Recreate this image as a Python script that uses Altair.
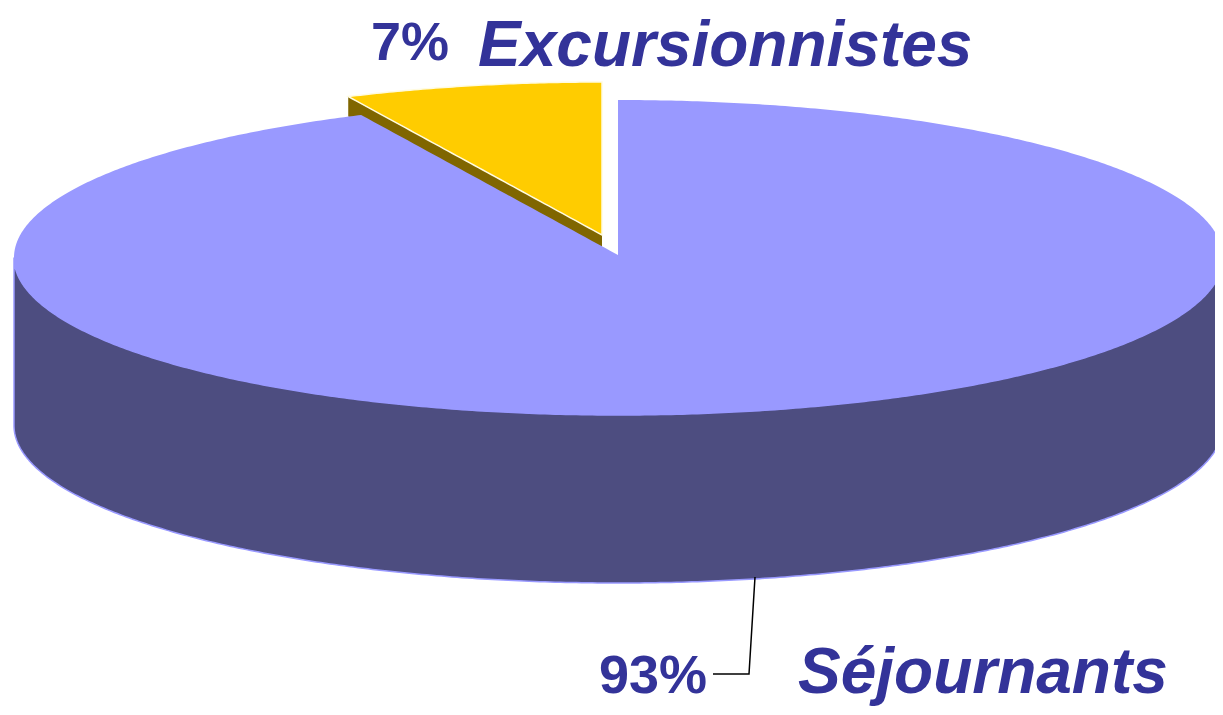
import numpy as np
import pandas as pd
import altair as alt

# Values
shares = [93, 7]
pct_labels = ["93%", "7%"]
names = ["Séjournants", "Excursionnistes"]

# Colours
TOP = "#9999FF"
SIDE = "#4D4D80"
YELLOW = "#FFCC00"
BROWN = "#806600"
TEXT = "#333399"

# Pie geometry (page pixels), everything else follows from the shares
cx, cy, a, b = 618.5, 257.5, 604.5, 157.5
depth = 168
apex = (618, 255)
wedge_cx, wedge_cy, wedge_a, wedge_b = 602, 235, 596, 153
wedge_depth = 20

angle = 2 * np.pi * shares[1] / sum(shares)
WIDTH, HEIGHT = 1207, 699
x_scale = alt.Scale(domain=[8, 8 + WIDTH], range=[0, WIDTH], nice=False, zero=False)
y_scale = alt.Scale(domain=[8 + HEIGHT, 8], range=[HEIGHT, 0], nice=False, zero=False)


def pos():
    return dict(
        x=alt.X("x:Q", scale=x_scale, axis=None),
        y=alt.Y("y:Q", scale=y_scale, axis=None),
    )


def area_layer(x, y, y2, **mark):
    df = pd.DataFrame({"x": x, "y": y, "y2": y2})
    return alt.Chart(df).mark_area(**mark).encode(y2="y2:Q", **pos())


s = np.linspace(0, np.pi, 361)
ex = cx - a * np.cos(s)
e_up = cy - b * np.sin(s)
e_lo = cy + b * np.sin(s)

# Side wall of the large slice
side = area_layer(ex, e_lo, e_lo + depth, color=SIDE, stroke=TOP, strokeWidth=1.5)

# Small slice: flat wedge whose arc spans the share
t = np.linspace(angle, 0, 60)
wx = wedge_cx - wedge_a * np.sin(t)
wy = wedge_cy - wedge_b * np.cos(t)
frac = (wx - wx[0]) / (wedge_cx - wx[0])
wl = wy[0] + (wedge_cy - wy[0]) * frac
wedge_wall = area_layer(wx, wl, wl + wedge_depth, color=BROWN)
wedge_top = area_layer(wx, wy, wl, color=YELLOW, stroke="#FFFBE0", strokeWidth=1.5)

# Top of the large slice: ellipse with the notch cut out
corner_x = cx - a * np.sin(angle)
corner_y = cy - b * np.cos(angle)
left = ex < corner_x
right = ex > apex[0] + 0.02
notch_x = np.linspace(corner_x, apex[0], 40)
notch_y = corner_y + (apex[1] - corner_y) * (notch_x - corner_x) / (apex[0] - corner_x)


def lo(v):
    return cy + b * np.sqrt(np.clip(1 - ((v - cx) / a) ** 2, 0, 1))


step_x = apex[0] + 0.01
top_x = np.concatenate([ex[left], notch_x, [step_x], ex[right]])
top_y = np.concatenate([e_up[left], notch_y, [2 * cy - lo(step_x)], e_up[right]])
top_lo = np.concatenate([e_lo[left], lo(notch_x), [lo(step_x)], e_lo[right]])
top = area_layer(top_x, top_y, top_lo, color=TOP)

# Leader line
leader_df = pd.DataFrame({"x": [755, 749, 713], "y": [577, 674, 674], "i": [0, 1, 2]})
leader = (
    alt.Chart(leader_df)
    .mark_line(color="black", strokeWidth=1.5)
    .encode(order=alt.Order("i:Q"), **pos())
)


def text_layer(txt, x, y, size, italic=False):
    df = pd.DataFrame({"x": [x], "y": [y], "t": [txt]})
    return (
        alt.Chart(df)
        .mark_text(
            font="Liberation Sans",
            fontSize=size,
            fontWeight="bold",
            fontStyle="italic" if italic else "normal",
            align="left",
            baseline="alphabetic",
            color=TEXT,
        )
        .encode(text="t:N", **pos())
    )


labels = [
    text_layer(pct_labels[1], 371, 60, 54),
    text_layer(names[1], 478, 66, 64, True),
    text_layer(pct_labels[0], 599, 693, 54),
    text_layer(names[0], 798, 693, 64, True),
]

chart = (
    alt.layer(side, wedge_wall, wedge_top, top, leader, *labels)
    .properties(
        width=WIDTH,
        height=HEIGHT,
        padding=0,
        background="white",
        autosize=alt.AutoSizeParams(type="none", contains="padding"),
    )
    .configure_view(stroke=None)
)
chart.save("out.html", embed_options={"renderer": "svg", "actions": False})
